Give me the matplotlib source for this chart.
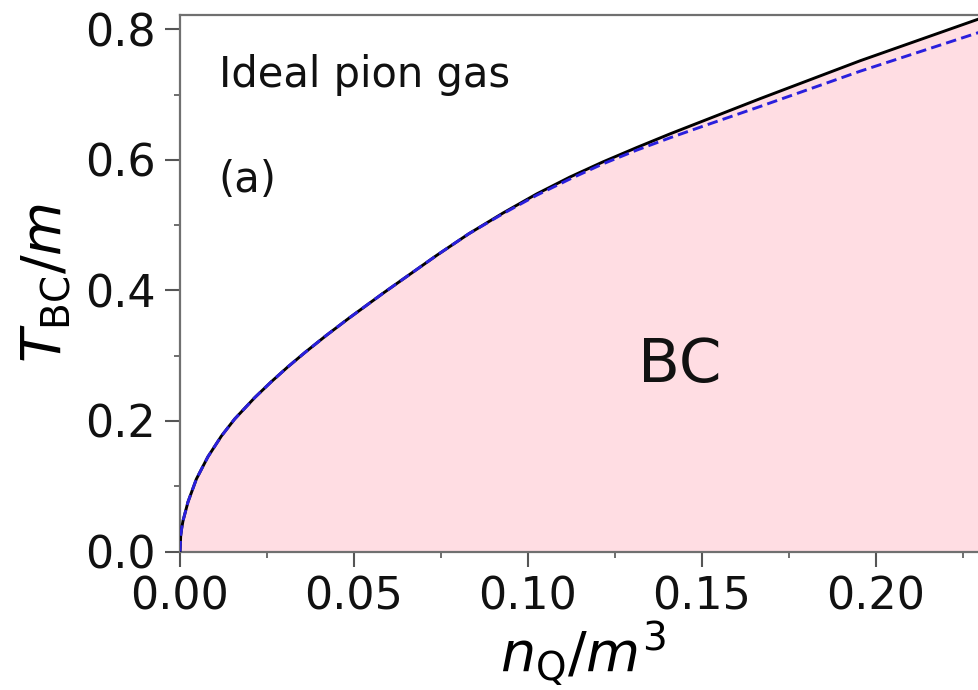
import matplotlib
matplotlib.use("Agg")
import matplotlib.pyplot as plt
from matplotlib.ticker import MultipleLocator

# Values
n_exact = [0.0, 0.0002, 0.0005, 0.00086, 0.0023, 0.0047, 0.0080, 0.0119, 0.0157,
           0.0215, 0.0262, 0.0310, 0.0359, 0.0420, 0.0484, 0.0584, 0.0738, 0.0830,
           0.0929, 0.1025, 0.1121, 0.1215, 0.1312, 0.1408, 0.1504, 0.1667, 0.1954,
           0.2316]
T_exact = [0.0, 0.024, 0.036, 0.047, 0.076, 0.111, 0.145, 0.177, 0.203,
           0.236, 0.260, 0.283, 0.305, 0.331, 0.357, 0.396, 0.454, 0.487,
           0.519, 0.548, 0.574, 0.597, 0.619, 0.640, 0.660, 0.694, 0.752,
           0.820]

n_approx = [0.0, 0.0002, 0.0005, 0.00086, 0.0023, 0.0047, 0.0080, 0.0119, 0.0157,
            0.0215, 0.0262, 0.0310, 0.0359, 0.0420, 0.0484, 0.0584, 0.0738, 0.0830,
            0.0929, 0.1025, 0.1121, 0.1215, 0.1312, 0.1408, 0.1504, 0.1667, 0.1954,
            0.2316]
T_approx = [0.0, 0.024, 0.036, 0.047, 0.076, 0.111, 0.145, 0.177, 0.203,
            0.236, 0.260, 0.283, 0.305, 0.331, 0.357, 0.396, 0.454, 0.487,
            0.518, 0.546, 0.571, 0.594, 0.615, 0.634, 0.652, 0.682, 0.736,
            0.799]

x_ticks = [0.00, 0.05, 0.10, 0.15, 0.20]
y_ticks = [0.0, 0.2, 0.4, 0.6, 0.8]

fig = plt.figure(figsize=(9.79, 6.9), dpi=100)
ax = fig.add_axes([180/979, 1 - 551.5/690, (986 - 180)/979, (551.5 - 15)/690])

ax.fill_between(n_exact, 0, T_exact, color="#FFDDE3", linewidth=0, zorder=1)
ax.plot(n_exact, T_exact, color="black", lw=2.1, zorder=3)
ax.plot(n_approx, T_approx, color="#2A1FDD", lw=2.1, ls=(0, (3.6, 1.8)), zorder=4)

ax.set_xlim(0, 0.2316)
ax.set_ylim(0, 0.8222)
ax.set_xticks(x_ticks)
ax.set_yticks(y_ticks)
ax.set_xticklabels([f"{v:.2f}" for v in x_ticks])
ax.set_yticklabels([f"{v:.1f}" for v in y_ticks])
ax.xaxis.set_minor_locator(MultipleLocator(0.025))
ax.yaxis.set_minor_locator(MultipleLocator(0.1))

for s in ax.spines.values():
    s.set_color("#707070")
    s.set_linewidth(1.6)
ax.tick_params(which="major", length=10.5, width=1.5, color="#555555",
               labelsize=32, pad=7, labelcolor="#111111")
ax.tick_params(which="minor", length=4, width=1.2, color="#555555")

ax.set_xlabel(r"$n_{\rm Q}/m^3$", fontsize=40, labelpad=0)
ax.set_ylabel(r"$T_{\rm BC}/m$", fontsize=40, labelpad=8)

ax.text(0.048, 0.888, "Ideal pion gas", transform=ax.transAxes, fontsize=30,
        va="center", ha="left", color="#111111")
ax.text(0.048, 0.692, "(a)", transform=ax.transAxes, fontsize=30,
        va="center", ha="left", color="#111111")
ax.text(0.1437, 0.285, "BC", fontsize=44, ha="center", va="center", color="#111111")

fig.savefig("out.png", dpi=100)
